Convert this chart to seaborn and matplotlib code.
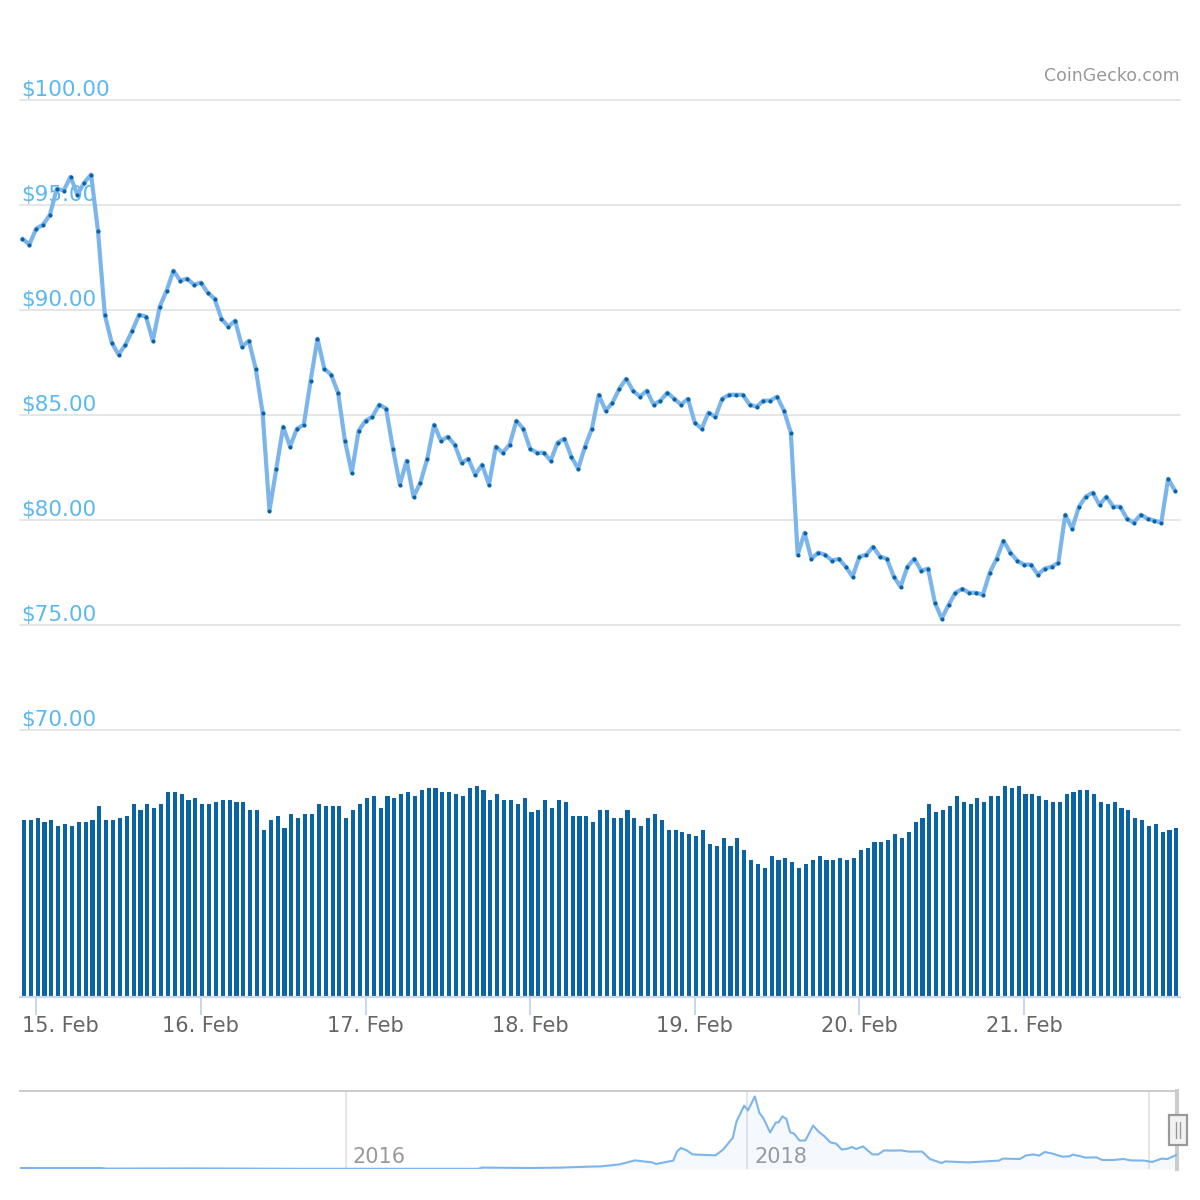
import matplotlib
matplotlib.use('Agg')
import matplotlib.pyplot as plt
from matplotlib.patches import Rectangle
from matplotlib.transforms import ScaledTranslation
import seaborn as sns

# hourly price, 14 Feb 22:00 to 21 Feb 22:00
price = [
    93.38, 93.10, 93.86, 94.05, 94.52, 95.76, 95.67, 96.33, 95.48, 96.05, 96.43, 93.76, 89.76,
    88.43, 87.86, 88.33, 89.00, 89.76, 89.67, 88.52, 90.14, 90.90, 91.86, 91.38, 91.48, 91.19,
    91.29, 90.81, 90.52, 89.57, 89.19, 89.48, 88.24, 88.52, 87.19, 85.10, 80.43, 82.43, 84.43,
    83.48, 84.33, 84.52, 86.62, 88.62, 87.19, 86.90, 86.05, 83.76, 82.24, 84.24, 84.71, 84.90,
    85.48, 85.29, 83.38, 81.67, 82.81, 81.10, 81.76, 82.90, 84.52, 83.76, 83.95, 83.57, 82.71,
    82.90, 82.14, 82.62, 81.67, 83.48, 83.19, 83.57, 84.71, 84.33, 83.38, 83.19, 83.19, 82.81,
    83.67, 83.86, 83.00, 82.43, 83.48, 84.33, 85.95, 85.19, 85.57, 86.24, 86.71, 86.14, 85.86,
    86.14, 85.48, 85.67, 86.05, 85.76, 85.48, 85.76, 84.62, 84.33, 85.10, 84.90, 85.76, 85.95,
    85.95, 85.95, 85.48, 85.38, 85.67, 85.67, 85.86, 85.19, 84.14, 78.33, 79.38, 78.14, 78.43,
    78.33, 78.05, 78.14, 77.76, 77.29, 78.24, 78.33, 78.71, 78.24, 78.14, 77.29, 76.81, 77.76,
    78.14, 77.57, 77.67, 76.05, 75.29, 75.95, 76.52, 76.71, 76.52, 76.52, 76.43, 77.48, 78.14,
    79.00, 78.43, 78.05, 77.86, 77.86, 77.38, 77.67, 77.76, 77.95, 80.24, 79.57, 80.62, 81.10,
    81.29, 80.71, 81.10, 80.62, 80.62, 80.05, 79.86, 80.24, 80.05, 79.95, 79.86, 81.95, 81.38,
]
volume = [
    177, 177, 179, 175, 177, 171, 173, 171, 175, 175, 177, 191, 177, 177, 179, 181, 193, 187,
    193, 189, 193, 205, 205, 203, 197, 199, 193, 193, 195, 197, 197, 195, 195, 187, 187, 167,
    177, 181, 169, 183, 179, 183, 183, 193, 191, 191, 191, 179, 187, 193, 199, 201, 189, 201,
    199, 203, 205, 201, 207, 209, 209, 205, 205, 203, 201, 209, 211, 207, 197, 203, 197, 197,
    193, 199, 185, 187, 197, 189, 197, 195, 181, 181, 181, 175, 187, 187, 179, 179, 187, 179,
    171, 179, 183, 177, 167, 167, 165, 163, 161, 167, 153, 151, 159, 151, 159, 147, 137, 133,
    129, 141, 137, 139, 135, 129, 133, 137, 141, 137, 137, 139, 137, 139, 147, 149, 155, 155,
    157, 163, 159, 165, 175, 179, 193, 185, 187, 191, 201, 195, 193, 199, 195, 201, 201, 211,
    209, 211, 203, 203, 201, 197, 195, 195, 203, 205, 207, 207, 203, 195, 193, 195, 189, 187,
    179, 177, 171, 173, 165, 167, 169,
]
price_ticks = [70, 75, 80, 85, 90, 95, 100]
day_ticks = [2, 26, 50, 74, 98, 122, 146]
day_labels = ['15. Feb', '16. Feb', '17. Feb', '18. Feb', '19. Feb', '20. Feb', '21. Feb']

overview_year = [
    2014.38, 2014.78, 2014.81, 2015.23, 2015.78, 2016.66, 2016.68, 2016.92, 2017.07, 2017.22,
    2017.27, 2017.364, 2017.44, 2017.526, 2017.545, 2017.631, 2017.65, 2017.669, 2017.698,
    2017.727, 2017.841, 2017.879, 2017.927, 2017.946, 2017.984, 2018.003, 2018.037, 2018.06,
    2018.079, 2018.113, 2018.142, 2018.155, 2018.174, 2018.194, 2018.213, 2018.232, 2018.26,
    2018.289, 2018.327, 2018.356, 2018.384, 2018.413, 2018.441, 2018.47, 2018.499, 2018.521,
    2018.541, 2018.575, 2018.622, 2018.651, 2018.68, 2018.718, 2018.765, 2018.804, 2018.87,
    2018.908, 2018.966, 2018.985, 2019.099, 2019.252, 2019.271, 2019.356, 2019.385, 2019.423,
    2019.452, 2019.48, 2019.518, 2019.566, 2019.604, 2019.618, 2019.661, 2019.68, 2019.738,
    2019.766, 2019.823, 2019.871, 2019.909, 2019.976, 2020.014, 2020.062, 2020.09, 2020.138,
]
overview_price = [
    5, 5, 2, 3, 1, 1, 7, 5, 7, 12,
    13, 23, 43, 33, 25, 42, 88, 105, 93,
    73, 68, 97, 155, 238, 317, 293, 363, 280,
    255, 183, 233, 233, 263, 250, 183, 177, 142,
    143, 217, 185, 163, 133, 127, 97, 102, 110,
    100, 113, 73, 73, 93, 92, 93, 87, 87,
    50, 30, 38, 33, 42, 52, 50, 67, 73,
    67, 85, 77, 62, 63, 72, 63, 57, 58,
    45, 45, 50, 43, 42, 35, 52, 50, 72,
]
year_ticks = [2016, 2018, 2020]
year_labels = ['2016', '2018', '']

W = H = 1200
LINE = '#7cb5ec'
DARK = '#0a63a6'
GRID = '#e6e6e6'

sns.set_style('white')
plt.rcParams['font.family'] = ['DejaVu Sans']


def axes_at(fig, left, top, right, bottom):
    return fig.add_axes([left / W, 1 - bottom / H, (right - left) / W, (bottom - top) / H])


def shift(label, fig, dx, dy):
    label.set_transform(label.get_transform() + ScaledTranslation(dx / 100, dy / 100, fig.dpi_scale_trans))


fig = plt.figure(figsize=(12, 12), dpi=100, facecolor='white')
hours = list(range(len(price)))
xlim = (-0.364, 168.73)

# price panel
ax = axes_at(fig, 20, 99.7, 1180, 729.7)
sns.lineplot(x=hours, y=price, ax=ax, color=LINE, linewidth=3, errorbar=None, clip_on=False, zorder=3)
sns.scatterplot(x=hours, y=price, ax=ax, color=DARK, s=9, linewidth=0, clip_on=False, zorder=4)
ax.set_xlim(*xlim)
ax.set_ylim(70, 100)
ax.set_xticks([])
ax.set_yticks(price_ticks)
ax.set_yticklabels([f'${p:.2f}' for p in price_ticks])
ax.set_xlabel('')
ax.set_ylabel('')
ax.set_axisbelow(True)
ax.grid(axis='y', color=GRID, linewidth=1.44)
for gl in ax.get_ygridlines():
    gl.set_clip_on(False)
ax.tick_params(axis='y', length=0, pad=-1, labelsize=15.5, labelcolor='#5cb8ee')
for lab in ax.get_yticklabels():
    lab.set_ha('left')
    lab.set_va('baseline')
    shift(lab, fig, 0, 3.5)
sns.despine(ax=ax, left=True, bottom=True)
ax.patch.set_alpha(0)

fig.text(1180 / W, 1 - 81 / H, 'CoinGecko.com', ha='right', va='baseline', fontsize=12.5, color='#999999')

# volume panel
vx = axes_at(fig, 20, 786, 1180, 997)
sns.barplot(x=[h + 0.2 for h in hours], y=volume, ax=vx, native_scale=True, color=DARK,
            saturation=1, width=0.6, linewidth=0)
vx.set_xlim(*xlim)
vx.set_ylim(0, 211)
vx.set_yticks([])
vx.set_xticks(day_ticks)
vx.set_xticklabels(day_labels)
vx.set_xlabel('')
vx.set_ylabel('')
vx.tick_params(axis='x', length=13, width=1.44, color='#ccd6eb', pad=1, labelsize=15, labelcolor='#666666', bottom=True)
sns.despine(ax=vx, left=True)
vx.spines['bottom'].set_color('#ccd6eb')
vx.spines['bottom'].set_linewidth(1.6)
vx.patch.set_alpha(0)
# first label is pushed inside the plot area
shift(vx.get_xticklabels()[0], fig, 24, 0)

# navigator
nav = axes_at(fig, 20, 1091, 1177, 1169)
sns.lineplot(x=overview_year, y=overview_price, ax=nav, color=LINE, linewidth=1.5, errorbar=None, zorder=3)
nav.fill_between(overview_year, overview_price, color=LINE, alpha=0.07, linewidth=0, zorder=2)
nav.set_xlim(2014.38, 2020.138)
nav.set_ylim(0, 390)
nav.set_yticks([])
nav.set_xticks(year_ticks)
nav.set_xticklabels(year_labels)
nav.set_xlabel('')
nav.set_ylabel('')
nav.grid(axis='x', color=GRID, linewidth=1.44)
nav.set_axisbelow(True)
nav.tick_params(axis='x', length=0, pad=0, labelsize=15, labelcolor='#999999')
for lab in nav.get_xticklabels():
    lab.set_ha('left')
    lab.set_va('baseline')
    shift(lab, fig, 7, 6)
for side in ['left', 'bottom']:
    nav.spines[side].set_visible(False)
nav.spines['top'].set_color('#cccccc')
nav.spines['top'].set_linewidth(1.44)
nav.spines['right'].set_color('#cccccc')
nav.spines['right'].set_linewidth(2.9)

# scroll handle
fig.add_artist(Rectangle((1169 / W, 1 - 1145 / H), 18 / W, 30 / H, transform=fig.transFigure,
                         facecolor='#f2f2f2', edgecolor='#999999', linewidth=1.6))
for hx in [1175.5, 1179.5]:
    fig.add_artist(plt.Line2D([hx / W, hx / W], [1 - 1122 / H, 1 - 1138 / H], transform=fig.transFigure,
                              color='#999999', linewidth=1))

fig.savefig('out.png', dpi=100, facecolor='white')
plt.close(fig)
